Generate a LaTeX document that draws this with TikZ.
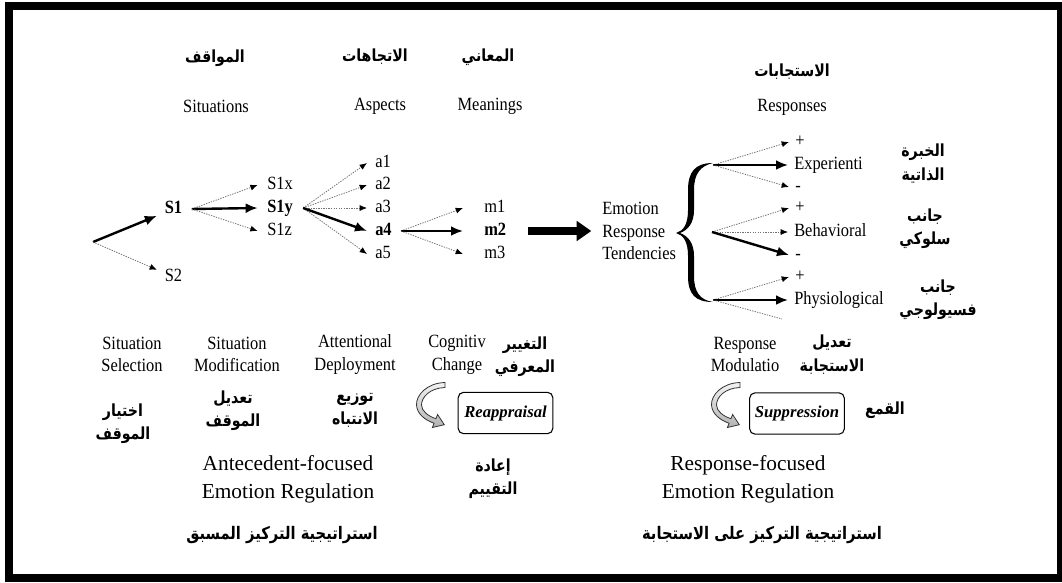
\documentclass[tikz,border=0pt]{standalone}
\usepackage{fontspec}
\setmainfont{Liberation Serif}
\newfontfamily\enfam[FakeStretch=0.88]{Liberation Serif}
\newfontfamily\arfont[Script=Arabic,FakeStretch=0.85]{DejaVu Sans}
\usetikzlibrary{arrows.meta,calc}
\TeXXeTstate=1
\newcommand\rtl[1]{\beginR#1\endR}
\newcommand\arb{\arfont\bfseries\fontsize{12.5}{17.5}\selectfont}
\newcommand\arbb{\arfont\bfseries\fontsize{13}{15}\selectfont}
\newcommand\enf{\enfam\fontsize{14}{17}\selectfont}
\newcommand\bigf{\fontsize{16}{21}\selectfont}
\begin{document}
\begin{tikzpicture}[x=0.75pt,y=-0.75pt,
  every node/.style={inner sep=0pt},
  en/.style={font=\enf, align=center},
  lbl/.style={font=\enf, anchor=west, text height=9.5pt, text depth=3pt},
  blb/.style={lbl, font=\enf\bfseries},
  ar/.style={font=\arb, align=center},
  arw/.style={font=\arbb, align=center},
  bigt/.style={font=\bigf, align=center},
  bx/.style={draw, rounded corners=4pt, line width=0.8pt, minimum width=71pt, minimum height=31pt, font=\fontsize{12.5}{14}\selectfont\bfseries\itshape},
  dt/.style={draw=black!55, line width=0.6pt, dash pattern=on 1pt off 0.9pt, -{Latex[length=5.5pt,width=4.5pt,color=black]}},
  dtn/.style={draw=black!55, line width=0.6pt, dash pattern=on 1pt off 0.9pt},
  tk/.style={line width=1.8pt, -{Latex[length=9pt,width=7.5pt]}},
  bigarr/.style={line width=6pt, -{Triangle[length=11pt,width=14.5pt]}},
  carrow/.pic={
    \path[draw=black!80, line width=0.6pt, top color=gray!10, bottom color=gray!60]
      (13,-22.5) .. controls (-5,-22) and (-16,-10) .. (-15.5,0)
      .. controls (-15,9) and (-7,15) .. (2.1,18.3)
      -- (0.4,22.5) -- (12.3,19.7) -- (5.6,9.5) -- (3.9,13.7)
      .. controls (-4,11) and (-10.5,6) .. (-10.5,0)
      .. controls (-10.5,-8) and (-2,-17) .. (13,-17.5) -- cycle;
  }
]
\useasboundingbox (0,0) rectangle (1062,582);
\fill[white] (0,0) rectangle (1062,582);
\draw[line width=6pt] (9,6) rectangle (1061,578);

% headers
\node[ar] (hSit) at (215,58) {\rtl{المواقف}};
\node[ar] (hAsp) at (375,57) {\rtl{الاتجاهات}};
\node[ar] (hMea) at (488,57) {\rtl{المعاني}};
\node[ar] (hRes) at (792,72) {\rtl{الاستجابات}};
\node[en] (eSit) at (216,106) {Situations};
\node[en] (eAsp) at (380,106) {Aspects};
\node[en] (eMea) at (490,106) {Meanings};
\node[en] (eRes) at (792,107) {Responses};

% situations
\coordinate (st) at (93,242);
\node[blb,anchor=center] (S1) at (173.5,209) {S1};
\node[lbl,anchor=center] (S2) at (173.5,277) {S2};
\draw[tk, shorten >=13.5pt] (st) -- (S1.center);
\draw[dt, shorten >=13.5pt] (st) -- (S2.center);

\node[lbl] (S1x) at (267,185) {S1x};
\node[blb] (S1y) at (267,208) {S1y};
\node[lbl] (S1z) at (267,231) {S1z};
\draw[dt] ([xshift=7pt]S1.east) -- ([xshift=-7pt]S1x.west);
\draw[tk] ([xshift=7pt]S1.east) -- ([xshift=-7pt]S1y.west);
\draw[dt] ([xshift=7pt]S1.east) -- ([xshift=-7pt]S1z.west);

% aspects
\node[lbl] (a1) at (375,163) {a1};
\node[lbl] (a2) at (375,185) {a2};
\node[lbl] (a3) at (375,208) {a3};
\node[blb] (a4) at (375,231) {a4};
\node[lbl] (a5) at (375,254) {a5};
\foreach \n in {a1,a2,a3,a5}
  \draw[dt] ([xshift=7.5pt]S1y.east) -- ([xshift=-6pt]\n.west);
\draw[tk] ([xshift=7.5pt]S1y.east) -- ([xshift=-6pt]a4.west);

% meanings
\node[lbl] (m1) at (484,208) {m1};
\node[blb] (m2) at (484,231) {m2};
\node[lbl] (m3) at (484,254) {m3};
\draw[dt] ([xshift=6.75pt]a4.east) -- ([xshift=-15.75pt]m1.west);
\draw[tk] ([xshift=6.75pt]a4.east) -- ([xshift=-15.75pt]m2.west);
\draw[dt] ([xshift=6.75pt]a4.east) -- ([xshift=-15.75pt]m3.west);

% emotion response tendencies
\node[en, anchor=west, align=left] (ERT) at (602,231) {Emotion\\Response\\Tendencies};
\draw[bigarr] ([xshift=16.5pt]m2.east) -- ([xshift=-8pt]ERT.west);

% brace
\fill (713,163) .. controls (695,163) and (688,172) .. (688,190) -- (688,210)
  .. controls (688,225) and (683,231) .. (676,233)
  .. controls (683,235) and (688,241) .. (688,256) -- (688,276)
  .. controls (688,294) and (695,302) .. (713,302)
  .. controls (700,300) and (694,292) .. (694,276) -- (694,256)
  .. controls (694,243) and (688,236) .. (680,233)
  .. controls (688,230) and (694,223) .. (694,210) -- (694,190)
  .. controls (694,174) and (700,166) .. (713,163) -- cycle;
\coordinate (bT) at (713,165);
\coordinate (bM) at (712,232);
\coordinate (bB) at (713,300);

% responses
\node[lbl] (p1) at (795,142) {+};
\node[lbl] (E) at (794,165) {Experienti};
\node[lbl] (n1) at (795,187) {-};
\node[lbl] (p2) at (795,208) {+};
\node[lbl] (B) at (794,232) {Behavioral};
\node[lbl] (n2) at (795,255) {-};
\node[lbl] (p3) at (795,277) {+};
\node[lbl] (P) at (794,300) {Physiological};
\coordinate (d3) at (782,319);
\draw[dt] (bT) -- ([xshift=-4.5pt]p1.west);
\draw[tk] (bT) -- ([xshift=-4.5pt]E.west);
\draw[dt] (bT) -- ([xshift=-4.5pt]n1.west);
\draw[dt] (bM) -- ([xshift=-4.5pt]p2.west);
\draw[dt] (bM) -- ([xshift=-4.5pt]B.west);
\draw[tk] (bM) -- ([xshift=-4.5pt]n2.west);
\draw[dt] (bB) -- ([xshift=-4.5pt]p3.west);
\draw[tk] (bB) -- ([xshift=-4.5pt]P.west);
\draw[dtn] (bB) -- (d3);

\node[ar] (rA) at (923,163.5) {\rtl{الخبرة}\\\rtl{الذاتية}};
\node[ar] (rB) at (925,228.5) {\rtl{جانب}\\\rtl{سلوكي}};
\node[ar] (rC) at (938,300) {\rtl{جانب}\\\rtl{فسيولوجي}};

% bottom: antecedent-focused
\node[en] (ss) at (132,354.5) {Situation\\Selection};
\node[en] (sm) at (237,354.5) {Situation\\Modification};
\node[en] (ad) at (355,354.5) {Attentional\\Deployment};
\node[en] (cc) at (457,354.5) {Cognitiv\\Change};
\node[ar] (ccA) at (525,357) {\rtl{التغيير}\\\rtl{المعرفي}};
\node[ar] (ssA) at (123,423.5) {\rtl{اختيار}\\\rtl{الموقف}};
\node[ar] (smA) at (233,410.5) {\rtl{تعديل}\\\rtl{الموقف}};
\node[ar] (adA) at (355,410.5) {\rtl{توزيع}\\\rtl{الانتباه}};
\pic at (432,405) {carrow};
\node[bx] (rea) at (505.5,413) {Reappraisal};
\node[ar] (reaA) at (493,478.5) {\rtl{إعادة}\\\rtl{التقييم}};
\node[bigt] (aer) at (288,479) {Antecedent-focused\\Emotion Regulation};
\node[arw] (aerA) at (282,535) {\rtl{استراتيجية التركيز المسبق}};

% bottom: response-focused
\node[en] (rm) at (745,354.5) {Response\\Modulatio};
\node[ar] (rmA) at (832,354.5) {\rtl{تعديل}\\\rtl{الاستجابة}};
\pic at (727,405) {carrow};
\node[bx] (sup) at (797,413.5) {Suppression};
\node[ar] (supA) at (885,410) {\rtl{القمع}};
\node[bigt] (rer) at (748,479) {Response-focused\\Emotion Regulation};
\node[arw] (rerA) at (762,535) {\rtl{استراتيجية التركيز على الاستجابة}};
\end{tikzpicture}
\end{document}
